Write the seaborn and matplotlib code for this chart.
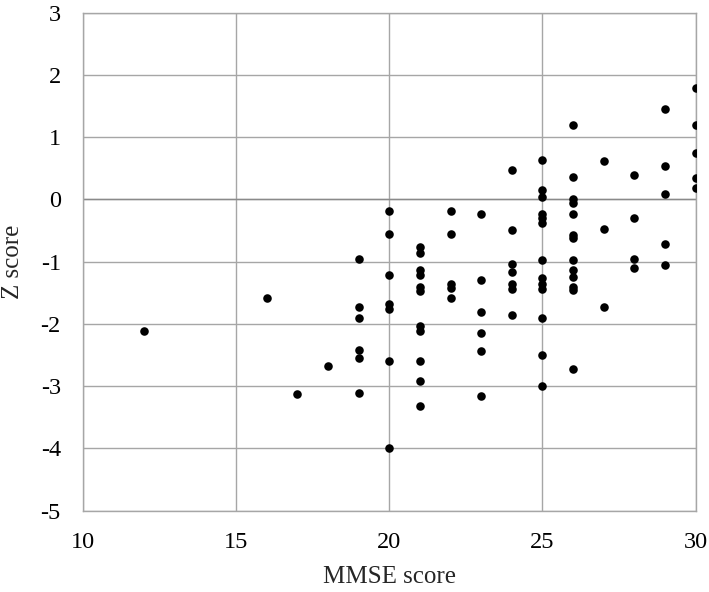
import matplotlib
matplotlib.use("Agg")
import matplotlib.pyplot as plt
import pandas as pd
import seaborn as sns

# MMSE score per subject (x) and matching Z score (y)
mmse_12 = [12]
z_12 = [-2.11]
mmse_16_18 = [16, 17, 18]
z_16_18 = [-1.59, -3.12, -2.68]
z_19 = [-0.95, -1.72, -1.90, -2.42, -2.54, -3.11]
z_20 = [-0.19, -0.55, -1.21, -1.68, -1.76, -2.60, -4.00]
z_21 = [-0.76, -0.86, -1.14, -1.22, -1.40, -1.47, -2.04, -2.12, -2.60, -2.92, -3.31]
z_22 = [-0.19, -0.55, -1.36, -1.42, -1.59]
z_23 = [-0.23, -1.30, -1.81, -2.14, -2.44, -3.15]
z_24 = [0.47, -0.49, -1.03, -1.16, -1.35, -1.44, -1.85]
z_25 = [0.64, 0.16, 0.04, -0.23, -0.30, -0.37, -0.98, -1.26, -1.35, -1.44, -1.90, -2.50, -2.99]
z_26 = [1.19, 0.36, 0.00, -0.05, -0.23, -0.57, -0.62, -0.98, -1.13, -1.24, -1.41, -1.46, -2.73]
z_27 = [0.62, -0.47, -1.72]
z_28 = [0.39, -0.29, -0.95, -1.10]
z_29 = [1.46, 0.54, 0.09, -0.71, -1.06]
z_30 = [1.79, 1.19, 0.75, 0.34, 0.18]

x_ticks = [10, 15, 20, 25, 30]
y_ticks = [-5, -4, -3, -2, -1, 0, 1, 2, 3]

groups = {19: z_19, 20: z_20, 21: z_21, 22: z_22, 23: z_23, 24: z_24, 25: z_25,
          26: z_26, 27: z_27, 28: z_28, 29: z_29, 30: z_30}
xs = list(mmse_12) + list(mmse_16_18)
ys = list(z_12) + list(z_16_18)
for k, vals in groups.items():
    xs += [k] * len(vals)
    ys += vals
df = pd.DataFrame({"mmse": xs, "z": ys})

sns.set_theme(style="whitegrid")
plt.rcParams["font.family"] = ["Liberation Serif", "DejaVu Serif"]
plt.rcParams["axes.unicode_minus"] = False

fig = plt.figure(figsize=(7.09, 5.92), dpi=100)
ax = fig.add_axes([0.1171, 0.1373, 0.8639, 0.8412])

sns.scatterplot(data=df, x="mmse", y="z", ax=ax, color="black", s=38,
                edgecolor="black", linewidth=0, zorder=3)

ax.set_xlim(10, 30)
ax.set_ylim(-5, 3)
ax.set_xticks(x_ticks)
ax.set_yticks(y_ticks)
ax.grid(True, color="#a6a6a6", linewidth=1.0)
for side in ["left", "bottom", "right", "top"]:
    ax.spines[side].set_visible(True)
    ax.spines[side].set_color("#a6a6a6")
    ax.spines[side].set_linewidth(1.0)
ax.axhline(0, color="#8a8a8a", linewidth=1.0, zorder=1)
ax.tick_params(axis="both", length=0, labelsize=17.5, colors="black")
ax.tick_params(axis="x", pad=15)
ax.tick_params(axis="y", pad=16)
ax.set_xlabel("MMSE score", fontsize=18, labelpad=10)
ax.set_ylabel("Z score", fontsize=18, labelpad=12)

fig.savefig("out.png", dpi=100, facecolor="white")
plt.close(fig)
